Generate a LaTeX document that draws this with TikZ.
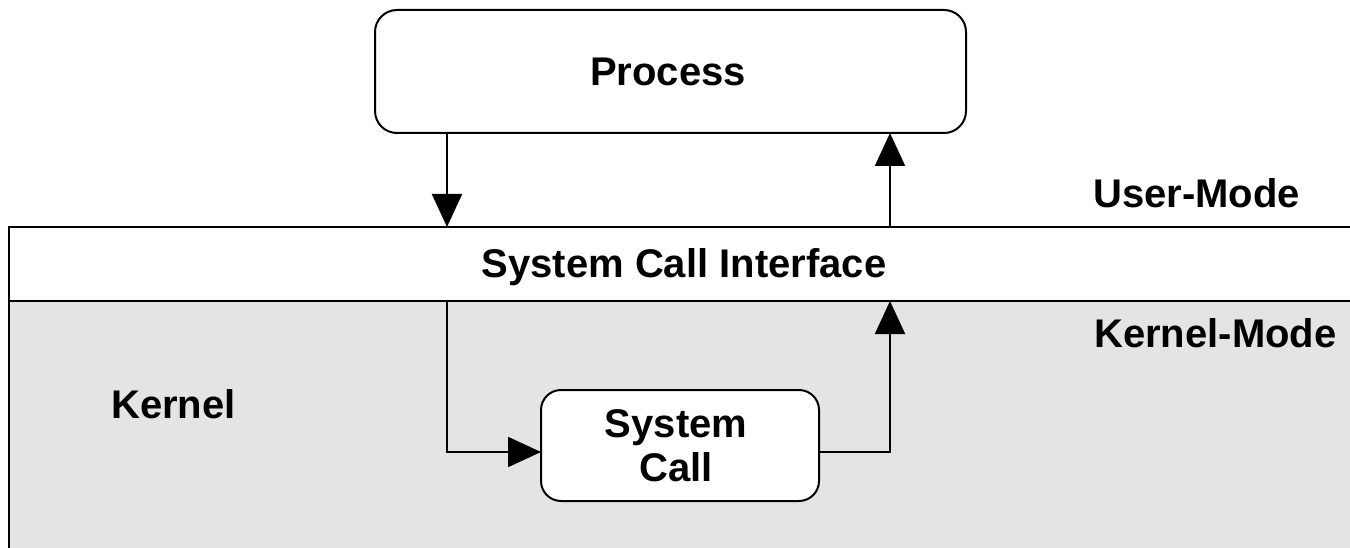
\documentclass[tikz,border=0pt]{standalone}
\usepackage{fontspec}
\setmainfont{Liberation Sans}
\usetikzlibrary{arrows.meta}
\definecolor{kgray}{HTML}{E4E4E4}
\tikzset{
  lbl/.style={font=\fontsize{40}{44}\selectfont\bfseries, inner sep=0pt, anchor=base},
  rbox/.style={draw=black, line width=2pt, fill=white, rounded corners=22pt},
  conn/.style={draw=black, line width=2pt, -{Triangle[length=33pt,width=30pt]}},
}
\begin{document}
\begin{tikzpicture}[x=1pt,y=-1pt]
\useasboundingbox (0,0) rectangle (1350,548);
% kernel region
\fill[kgray] (9,301) rectangle (1360,560);
\draw[line width=2pt] (9,560) -- (9,227) -- (1360,227);
\draw[line width=2pt] (9,301) -- (1360,301);
\coordinate (ifTopL) at (447,227);
\coordinate (ifTopR) at (890,227);
\coordinate (ifBotL) at (447,301);
\coordinate (ifBotR) at (890,301);
% process box
\draw[rbox] (375,10) rectangle (966,133);
\node[lbl] (proc) at (668,86) {Process};
\coordinate (procL) at (447,133);
\coordinate (procR) at (890,133);
% system call box
\draw[rbox, rounded corners=20pt] (541,390) rectangle (819,501);
\coordinate (scL) at (541,452);
\coordinate (scR) at (819,452);
\node[lbl] (sc1) at (676,437) {System};
\node[lbl] (sc2) at (676,481) {Call};
% labels
\node[lbl] (sci) at (684,277) {System Call Interface};
\node[lbl, anchor=base west] (um) at (1093,208) {User-Mode};
\node[lbl, anchor=base west] (km) at (1094,347) {Kernel-Mode};
\node[lbl, anchor=base west] (kn) at (111,418) {Kernel};
% connectors
\draw[conn] (procL) -- (ifTopL);
\draw[conn] (ifTopR) -- (procR);
\draw[conn] (ifBotL) |- (scL);
\draw[conn] (scR) -| (ifBotR);
\end{tikzpicture}
\end{document}
